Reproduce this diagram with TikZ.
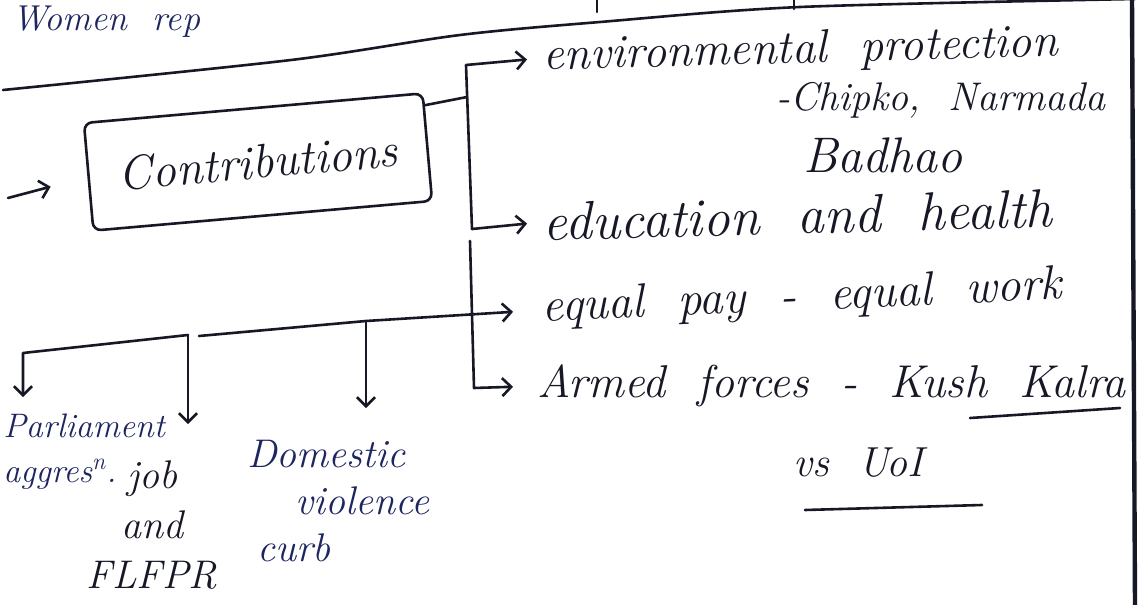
\documentclass[tikz,border=0pt]{standalone}
\usepackage{amsmath}
\usetikzlibrary{arrows.meta}
\usetikzlibrary{calc}

\definecolor{ink}{RGB}{22,24,38}
\definecolor{inkblue}{RGB}{30,38,95}
\newcommand{\wsp}{\hspace{.7em}}

\begin{document}
\begin{tikzpicture}[x=0.5pt, y=-0.5pt,
    inkline/.style={draw=ink, line width=1.3pt, line cap=round, line join=round},
    inkarrow/.style={inkline, -{Straight Barb[length=4.5pt, width=9pt]}, shorten >=#1},
    inkarrow/.default=8pt,
    hand/.style={inner sep=0pt, text=ink, font=\itshape\fontsize{#1}{#1}\selectfont}]
      \useasboundingbox (0,0) rectangle (1141,605);
      \clip (0,0) rectangle (1141,605);
      \fill[white] (0,0) rectangle (1141,605);

      \draw[inkline] plot[smooth] coordinates {(3,90) (291,60) (460,35) (600,22) (800,7) (1135,-1)};
      \draw[inkline] (597,0) -- (597,12);
      \draw[inkline] (794,0) -- (794,9);
      \draw[draw=ink, line width=2.2pt] (1132,0) -- (1135,605);

      \node[hand=18, text=inkblue, anchor=base west] (women) at (12,30) {Women\wsp rep};
      \node[inkline, rounded corners=4pt, rotate=5, minimum width=170pt, minimum height=54pt, hand=24] (contrib) at (258,162) {Contributions};
      \node[hand=23.5, anchor=west, rotate=1.5] (env) at (543,58) {environmental\wsp protection};
      \node[hand=20, anchor=base west] (chipko) at (776,110) {-Chipko,\wsp Narmada};
      \node[hand=25, anchor=base west] (badhao) at (803,172) {Badhao};
      \node[hand=27, anchor=west, rotate=1.5] (edu) at (543,222) {education\wsp and\wsp health};
      \node[hand=24, anchor=west, rotate=2.5] (equal) at (542,310) {equal\wsp pay\wsp -\wsp equal\wsp work};
      \node[hand=23, anchor=west] (armed) at (537,386) {Armed\wsp forces\wsp -\wsp Kush\wsp Kalra};
      \node[hand=21, anchor=base west] (vs) at (793,476) {vs\wsp UoI};
      \node[hand=17, font=\itshape\fontsize{17}{22.5}\selectfont, text=inkblue, anchor=north west, align=left] (parl) at (3,413) {Parliament\\aggres\textsuperscript{n}.};
      \node[hand=20, font=\itshape\fontsize{20}{25}\selectfont, anchor=north, align=center] (job) at (152,460) {job\\and\\FLFPR};
      \node[hand=20, font=\itshape\fontsize{20}{23.5}\selectfont, text=inkblue, anchor=north west, align=left] (dom) at (247,440) {Domestic\\\hspace*{24pt}violence\\\hspace*{5pt}curb};

      \coordinate (lead) at (8,198);
      \coordinate (j1) at (467,97);
      \coordinate (t1) at (466,65);
      \coordinate (t2) at (472,229);
      \coordinate (t3) at (470,241);
      \coordinate (t4) at (474,388);
      \coordinate (b0) at (23,353);
      \coordinate (b1) at (188,335);
      \coordinate (b2) at (199,336);
      \coordinate (b3) at (366,321);

      \draw[inkarrow=19pt] (lead) -- (contrib.west);
      \draw[inkline] ($(contrib.north east)!0.12!(contrib.south east)$) -- (j1);
      \draw[inkarrow] (t2) -- (t1) -- (env.west);
      \draw[inkarrow] (t2) -- (edu.west);
      \draw[inkarrow=14.5pt] (b2) -- (b3) -- (equal.west);
      \draw[inkarrow=12pt] (t3) -- (t4) -- (armed.west);
      \draw[inkarrow=8pt] (b1) -- (b0) -- (b0 |- parl.north);
      \draw[inkarrow=18pt] (b1) -- (b1 |- job.north);
      \draw[inkarrow=16pt] (b3) -- (b3 |- dom.north);

      \draw[inkline] (970,418) -- (1120,408);
      \draw[inkline] (805,510) -- (982,505);
    \end{tikzpicture}
\end{document}
